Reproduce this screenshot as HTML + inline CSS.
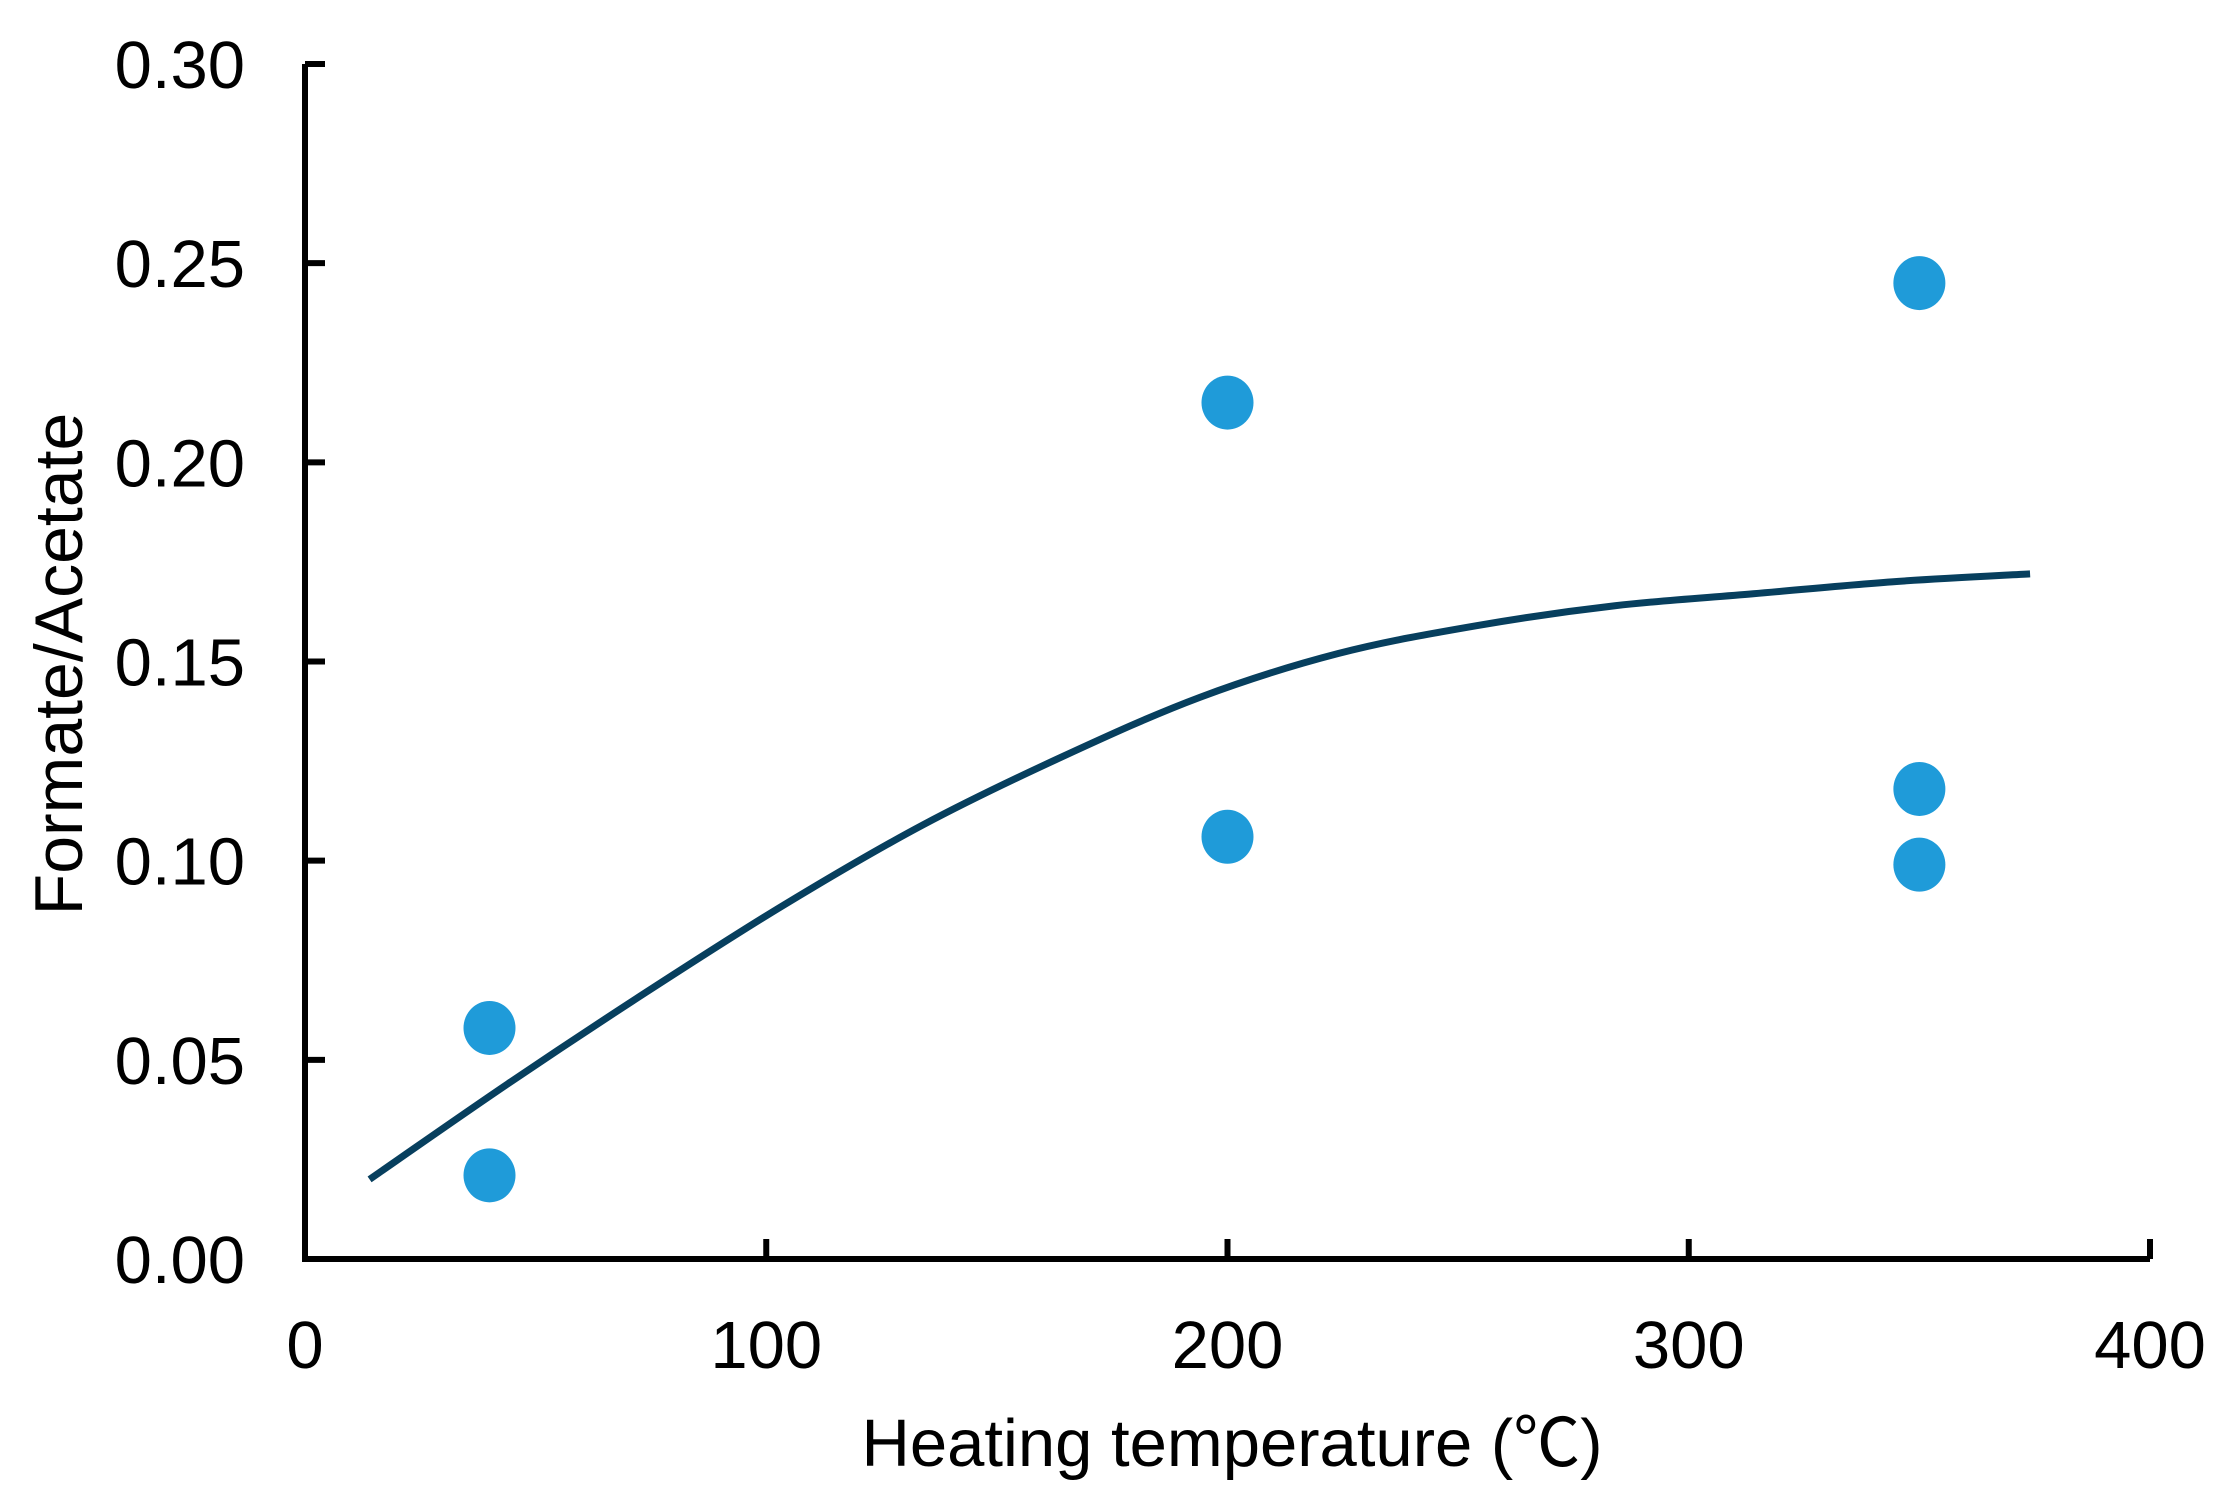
<!DOCTYPE html>
<html><head><meta charset="utf-8"><style>
html,body{margin:0;padding:0;background:#fff;}
svg{display:block;font-family:"Liberation Sans","Noto Sans CJK SC",sans-serif;}
</style></head><body>
<svg id="chart" width="2238" height="1497" viewBox="0 0 2238 1497" xmlns="http://www.w3.org/2000/svg">
<g id="axes"></g>
<g id="fit"></g>
<g id="pts"></g>
<text x="1232" y="1466" font-size="67" text-anchor="middle">Heating temperature (℃)</text>
<text transform="translate(82,664) rotate(-90)" font-size="68" text-anchor="middle">Formate/Acetate</text>
</svg>
<script>
const xTicks = [0, 100, 200, 300, 400];
const yTicks = [0.00, 0.05, 0.10, 0.15, 0.20, 0.25, 0.30];
const yTickLabels = ["0.00","0.05","0.10","0.15","0.20","0.25","0.30"];
const pointX = [40, 40, 200, 200, 350, 350, 350];
const pointY = [0.058, 0.021, 0.215, 0.106, 0.245, 0.118, 0.099];
const fitX = [14, 44, 74, 104, 134, 164, 194, 224, 254, 284, 314, 344, 374];
const fitY = [0.020, 0.044, 0.067, 0.089, 0.109, 0.126, 0.141, 0.152, 0.159, 0.164, 0.167, 0.170, 0.172];

const NS = "http://www.w3.org/2000/svg";
const X0 = 305, X1 = 2150, Y0 = 1259, Y1 = 64;
function sx(v){ return X0 + (v - 0) / 400 * (X1 - X0); }
function sy(v){ return Y0 - (v - 0) / 0.30 * (Y0 - Y1); }
function mk(tag, attrs, parent){
  const e = document.createElementNS(NS, tag);
  for (const k in attrs) e.setAttribute(k, attrs[k]);
  parent.appendChild(e);
  return e;
}
const axes = document.getElementById('axes');
let l = mk('path', {d:`M${X0},${Y1} L${X0},${Y0} L${X1},${Y0}`, fill:'none', stroke:'#000', 'stroke-width':6}, axes);


yTicks.forEach((v, i) => {
  const t = mk('line', {x1:X0, x2:X0+20, y1:sy(v), y2:sy(v), stroke:'#000', 'stroke-width':6}, axes);
  
  
  const tx = mk('text', {x:245, y:sy(v)+24, 'font-size':67, 'text-anchor':'end'}, axes);
  tx.textContent = yTickLabels[i];
  
  
});
xTicks.forEach(v => {
  const t = mk('line', {x1:sx(v), x2:sx(v), y1:Y0, y2:Y0-20, stroke:'#000', 'stroke-width':6}, axes);
  
  
  const tx = mk('text', {x:sx(v), y:1368, 'font-size':67, 'text-anchor':'middle'}, axes);
  tx.textContent = String(v);
  
  
});
const P = fitX.map((x, i) => [sx(x), sy(fitY[i])]);
let d = `M${P[0][0]},${P[0][1]}`;
for (let i = 0; i < P.length - 1; i++) {
  const p0 = P[Math.max(0, i-1)], p1 = P[i], p2 = P[i+1], p3 = P[Math.min(P.length-1, i+2)];
  const c1 = [p1[0] + (p2[0]-p0[0])/6, p1[1] + (p2[1]-p0[1])/6];
  const c2 = [p2[0] - (p3[0]-p1[0])/6, p2[1] - (p3[1]-p1[1])/6];
  d += ` C${c1[0]},${c1[1]} ${c2[0]},${c2[1]} ${p2[0]},${p2[1]}`;
}
const fit = mk('path', {d:d, fill:'none', stroke:'#073f5e', 'stroke-width':7}, document.getElementById('fit'));


const pts = document.getElementById('pts');
pointX.forEach((x, i) => {
  const c = mk('ellipse', {cx:sx(x), cy:sy(pointY[i]), rx:26, ry:27, fill:'#1f9bd9'}, pts);
  
  
});
</script>
</body></html>
